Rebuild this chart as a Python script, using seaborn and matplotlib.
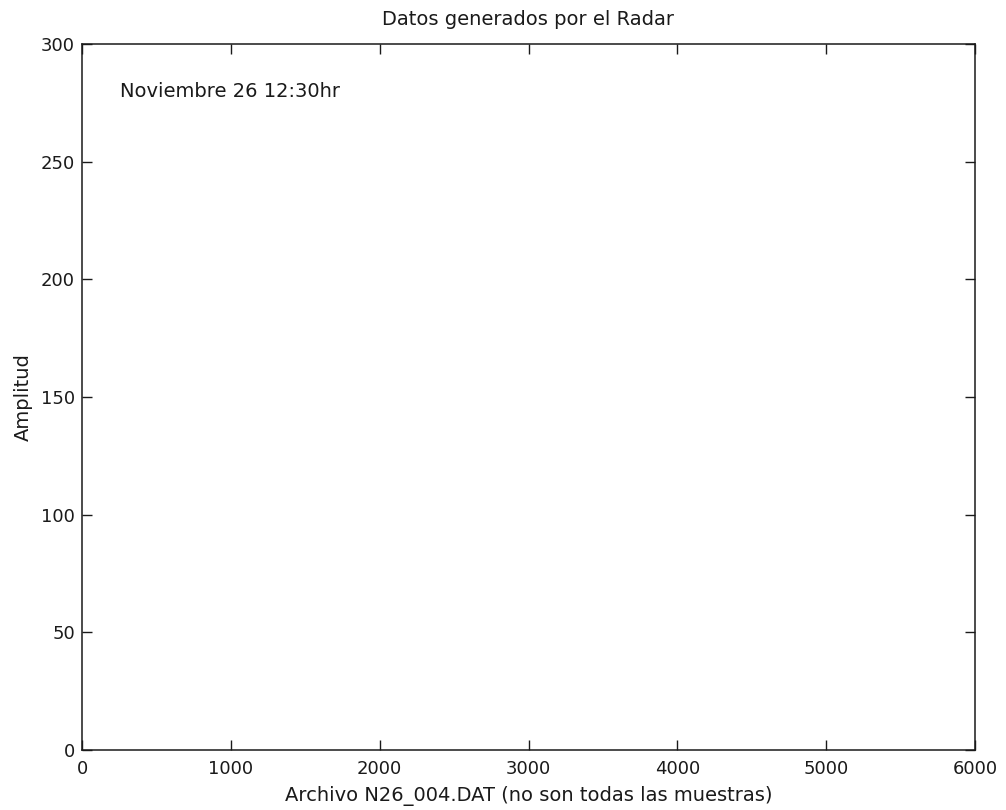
import matplotlib
matplotlib.use("Agg")
import matplotlib.pyplot as plt
import seaborn as sns

# Axis ticks and labels
x_ticks = [0, 1000, 2000, 3000, 4000, 5000, 6000]
y_ticks = [0, 50, 100, 150, 200, 250, 300]
title = "Datos generados por el Radar"
x_label = "Archivo N26_004.DAT (no son todas las muestras)"
y_label = "Amplitud"
note = "Noviembre 26 12:30hr"
note_pos = (255, 280)

sns.set_theme(style="ticks")
plt.rcParams["font.family"] = ["DejaVu Sans"]

fig = plt.figure(figsize=(10.06, 8.10), dpi=100)
ax = fig.add_axes([82 / 1006, 1 - 750 / 810, 893 / 1006, 706 / 810])

ax.set_xlim(x_ticks[0], x_ticks[-1])
ax.set_ylim(y_ticks[0], y_ticks[-1])
ax.set_xticks(x_ticks)
ax.set_yticks(y_ticks)
ax.tick_params(direction="in", length=7, width=1, top=True, right=True,
               labelsize=13, colors="#1a1a1a", pad=5)
ax.tick_params(axis="x", pad=7)
for s in ax.spines.values():
    s.set_linewidth(1.1)
    s.set_color("#1a1a1a")
    s.set_visible(True)

ax.set_title(title, fontsize=14, pad=14, color="#1a1a1a")
ax.set_xlabel(x_label, fontsize=14, labelpad=6, color="#1a1a1a")
ax.set_ylabel(y_label, fontsize=14, labelpad=6, color="#1a1a1a")
ax.text(note_pos[0], note_pos[1], note, fontsize=14, va="center", ha="left",
        color="#1a1a1a")

fig.savefig("out.png", dpi=100, facecolor="white")
